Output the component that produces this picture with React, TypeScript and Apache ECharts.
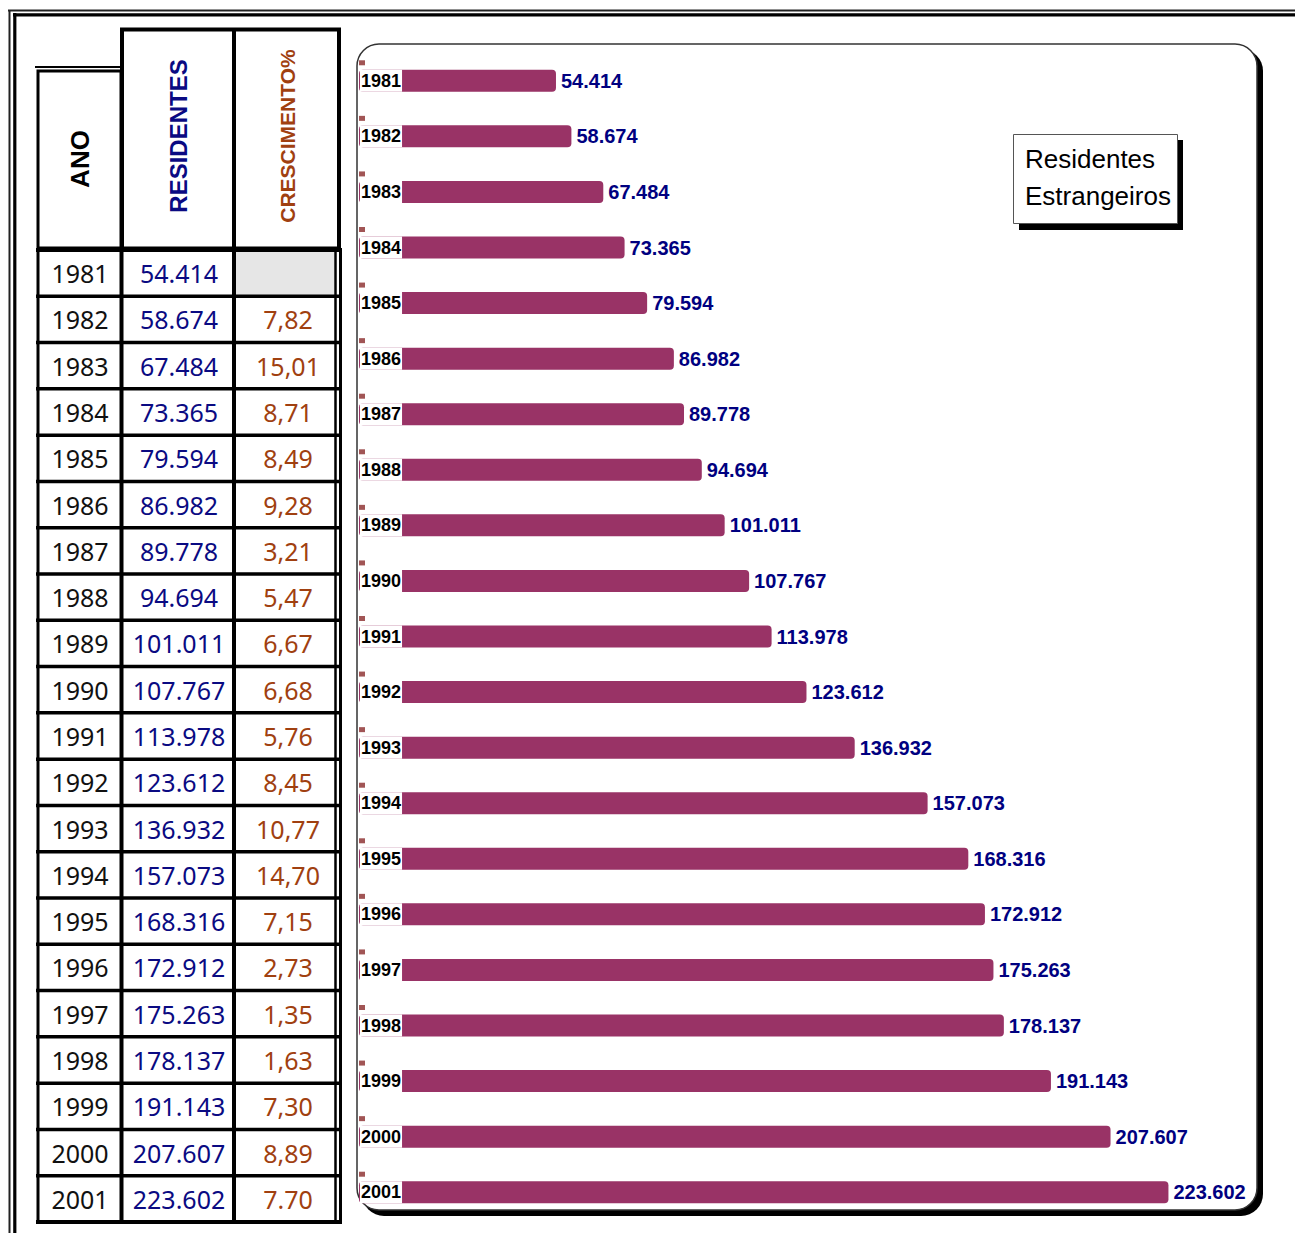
import React, { useEffect, useRef } from "react";
import * as echarts from "echarts";

const years = ["1981","1982","1983","1984","1985","1986","1987","1988","1989","1990","1991","1992","1993","1994","1995","1996","1997","1998","1999","2000","2001"];
const residents = [54414,58674,67484,73365,79594,86982,89778,94694,101011,107767,113978,123612,136932,157073,168316,172912,175263,178137,191143,207607,223602];
const growth = ["","7,82","15,01","8,71","8,49","9,28","3,21","5,47","6,67","6,68","5,76","8,45","10,77","14,70","7,15","2,73","1,35","1,63","7,30","8,89","7.70"];
const headers = ["ANO", "RESIDENTES", "CRESCIMENTO%"];
const legendLines = ["Residentes", "Estrangeiros"];

const fmt = (n: number) => String(n).replace(/\B(?=(\d{3})+(?!\d))/g, ".");

const BLUE = "#0a0a82";
const BROWN = "#a04010";

function txt(text: string, x: number, y: number, o: any = {}) {
  return {
    type: "text",
    x, y,
    rotation: o.rotation || 0,
    style: {
      text,
      x: 0, y: 0,
      fill: o.fill || "#111",
      fontSize: o.fontSize || 25,
      fontFamily: o.fontFamily || "Noto Sans",
      fontWeight: o.fontWeight || "normal",
      align: o.align || "center",
      textAlign: o.align || "center",
      verticalAlign: "middle",
      textVerticalAlign: "middle",
    },
  };
}
function ln(x1: number, y1: number, x2: number, y2: number, w: number, c = "#000") {
  return { type: "line", shape: { x1, y1, x2, y2 }, style: { stroke: c, lineWidth: w } };
}

export default function App() {
  const ref = useRef<HTMLDivElement>(null);
  useEffect(() => {
    const chart = echarts.init(ref.current!, null, { renderer: "svg" });
    const g: any[] = [];
    // outer double frame
    g.push(ln(8, 10.5, 1295, 10.5, 2, "#222"));
    g.push(ln(9.5, 10, 9.5, 1233, 2, "#222"));
    g.push(ln(13, 14.8, 1295, 14.8, 3.2));
    g.push(ln(14.8, 13, 14.8, 1233, 3.2));

    // table header
    g.push(ln(35, 67, 121, 67, 2));
    g.push({ type: "rect", shape: { x: 38, y: 71, width: 83, height: 177 }, style: { fill: "#fff", stroke: "#000", lineWidth: 3 } });
    g.push({ type: "rect", shape: { x: 122, y: 29.5, width: 217, height: 219 }, style: { fill: "#fff", stroke: "#000", lineWidth: 4 } });
    g.push(ln(234, 29.5, 234, 248, 4));
    g.push(txt(headers[0], 80, 159, { rotation: Math.PI / 2, fontFamily: "Liberation Sans", fontWeight: "bold", fontSize: 26, fill: "#000" }));
    g.push(txt(headers[1], 178, 136, { rotation: Math.PI / 2, fontFamily: "Liberation Sans", fontWeight: "bold", fontSize: 24, fill: BLUE }));
    g.push(txt(headers[2], 287, 136, { rotation: Math.PI / 2, fontFamily: "Liberation Sans", fontWeight: "bold", fontSize: 21, fill: BROWN }));

    // table body
    const top0 = 250, bottom0 = 1222;
    const rowH = (bottom0 - top0) / years.length;
    g.push({ type: "rect", shape: { x: 236, y: top0 + 2, width: 98, height: rowH - 3 }, style: { fill: "#e6e6e6" } });
    years.forEach((yr, i) => {
      const cy = top0 + rowH * (i + 0.5);
      g.push(txt(yr, 80, cy, { fill: "#111" }));
      g.push(txt(fmt(residents[i]), 179, cy, { fill: BLUE }));
      if (growth[i]) g.push(txt(growth[i], 288, cy, { fill: BROWN }));
    });
    for (let i = 0; i <= years.length; i++) {
      const y = top0 + rowH * i;
      g.push(ln(36, y, 342, y, i === 0 || i === years.length ? 4 : 3.5));
    }
    g.push(ln(38, top0, 38, bottom0, 3));
    g.push(ln(121.5, top0, 121.5, bottom0, 4));
    g.push(ln(234, top0, 234, bottom0, 4));
    g.push(ln(335.5, top0, 335.5, bottom0, 2.5));
    g.push(ln(340.5, top0, 340.5, bottom0, 3));

    // chart panel
    g.push({ type: "rect", shape: { x: 362, y: 49, width: 901, height: 1167, r: 22 }, style: { fill: "#000" } });
    g.push({ type: "rect", shape: { x: 357, y: 44, width: 900, height: 1166, r: 22 }, style: { fill: "#fff", stroke: "#333", lineWidth: 1.5 } });
    // legend box
    g.push({ type: "rect", shape: { x: 1019, y: 140, width: 164, height: 90 }, style: { fill: "#000" } });
    g.push({ type: "rect", shape: { x: 1013.5, y: 134.5, width: 164, height: 89 }, style: { fill: "#fff", stroke: "#555", lineWidth: 1 } });
    g.push(txt(legendLines[0], 1025, 159, { align: "left", fontFamily: "Liberation Sans", fontSize: 26, fill: "#000" }));
    g.push(txt(legendLines[1], 1025, 196, { align: "left", fontFamily: "Liberation Sans", fontSize: 26, fill: "#000" }));

    chart.setOption({
      animation: false,
      graphic: g,
      grid: { left: 359, top: 53, width: 905, height: 1167 },
      xAxis: { type: "value", min: 0, max: 250000, show: false },
      yAxis: {
        type: "category",
        data: years,
        inverse: true,
        z: 10,
        axisLine: { show: false },
        axisTick: { show: false },
        splitLine: { show: false },
        axisLabel: {
          inside: true,
          interval: 0,
          margin: 1,
          color: "#000",
          fontWeight: "bold",
          fontSize: 18,
          fontFamily: "Liberation Sans",
          backgroundColor: "#fff",
          padding: [2, 1, 1, 1],
          lineHeight: 19,
        },
      },
      series: [
        {
          type: "bar",
          name: "Residentes Estrangeiros",
          data: residents,
          barWidth: 22,
          itemStyle: { color: "#993366", borderRadius: 4 },
          label: {
            show: true,
            position: "right",
            distance: 5,
            color: "#000080",
            fontWeight: "bold",
            fontSize: 20,
            fontFamily: "Liberation Sans",
            formatter: (p: any) => fmt(p.value),
          },
        },
        {
          type: "scatter",
          data: years.map(() => 0),
          symbol: "rect",
          symbolSize: [6, 5],
          symbolOffset: [3, -18],
          itemStyle: { color: "#8a2a2a" },
          z: 3,
          silent: true,
        },
      ],
    });
    return () => chart.dispose();
  }, []);
  return <div ref={ref} style={{ position: "absolute", left: 0, top: 0, width: 1295, height: 1233 }} />;
}
